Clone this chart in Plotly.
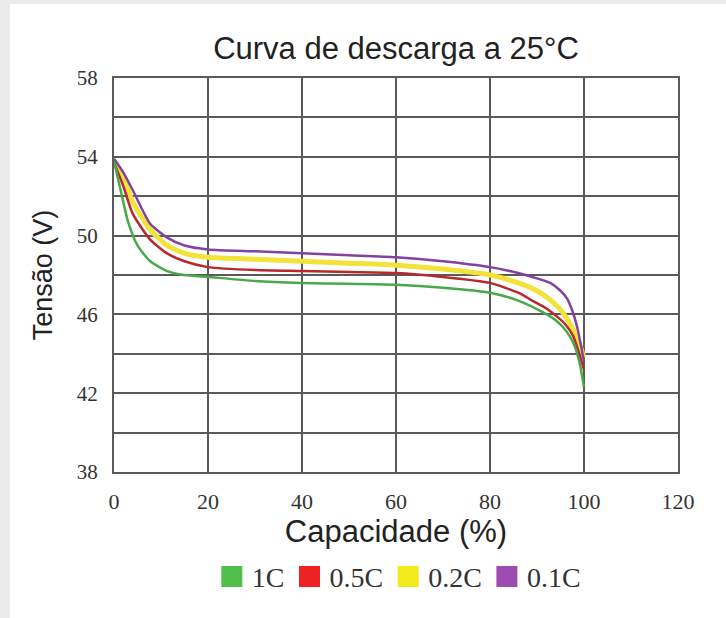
import plotly.graph_objects as go

# ---- data ----
series_names = ["1C", "0.5C", "0.2C", "0.1C"]

x_1c = [0, 1.5, 3, 5, 7.7, 11.3, 15, 20, 30, 40, 50, 60, 70, 80, 86, 91.3, 94, 96.4, 98, 99.1, 100]
v_1c = [53.8, 52.2, 50.7, 49.5, 48.7, 48.2, 48.0, 47.9, 47.7, 47.6, 47.55, 47.5, 47.35, 47.1, 46.7, 46.1, 45.7, 45.1, 44.4, 43.5, 42.3]

x_05c = [0, 2, 4, 7.7, 11.3, 15, 20, 30, 40, 50, 60, 70, 80, 86, 89, 92, 94.2, 96, 97.7, 99, 100]
v_05c = [53.7, 52.5, 51.1, 49.8, 49.1, 48.7, 48.4, 48.25, 48.2, 48.15, 48.1, 47.9, 47.6, 47.1, 46.7, 46.3, 45.9, 45.5, 44.9, 44.0, 43.2]

x_02c = [0, 2, 4, 7.7, 11.3, 15, 20, 30, 40, 50, 60, 70, 80, 86, 90, 93, 95.5, 97.5, 99, 100]
v_02c = [53.8, 53.0, 51.7, 50.3, 49.5, 49.1, 48.9, 48.8, 48.7, 48.6, 48.5, 48.3, 48.0, 47.6, 47.2, 46.7, 46.1, 45.3, 44.5, 43.8]

x_01c = [0, 2, 4, 7.7, 11.3, 15, 20, 30, 40, 50, 60, 70, 80, 86, 89, 92.8, 95, 96.4, 97.5, 98.5, 99.3, 100]
v_01c = [53.9, 53.2, 52.3, 50.6, 49.9, 49.5, 49.3, 49.2, 49.1, 49.0, 48.9, 48.7, 48.4, 48.1, 47.9, 47.6, 47.2, 46.8, 46.2, 45.4, 44.5, 43.6]

y_ticks = [38, 42, 46, 50, 54, 58]
x_ticks = [0, 20, 40, 60, 80, 100, 120]

line_colors = {"1C": "#4aa84a", "0.5C": "#b8282c", "0.2C": "#f2e23a", "0.1C": "#8442a0"}
legend_colors = {"1C": "#4fbf4a", "0.5C": "#ee2222", "0.2C": "#f3ea1c", "0.1C": "#9d4cb0"}
line_widths = {"1C": 2.5, "0.5C": 2.5, "0.2C": 5, "0.1C": 2.5}

data = {
    "1C": (x_1c, v_1c),
    "0.5C": (x_05c, v_05c),
    "0.2C": (x_02c, v_02c),
    "0.1C": (x_01c, v_01c),
}

fig = go.Figure()

# draw curves (yellow band first, then others)
for name in ["0.2C", "0.1C", "0.5C", "1C"]:
    xs, vs = data[name]
    fig.add_trace(go.Scatter(
        x=xs, y=vs, mode="lines", name=name, showlegend=False,
        line=dict(color=line_colors[name], width=line_widths[name], shape="spline", smoothing=0.6),
        hoverinfo="skip",
    ))

# legend entries (square swatches)
for name in series_names:
    fig.add_trace(go.Scatter(
        x=[None], y=[None], mode="markers", name=name,
        marker=dict(symbol="square", size=16, color=legend_colors[name],
                    line=dict(color=legend_colors[name], width=5)),
    ))

grid_col = "#5a5a5a"

fig.update_layout(
    width=726, height=618,
    paper_bgcolor="#ebebeb",
    plot_bgcolor="white",
    margin=dict(l=114, r=48, t=78, b=146),
    title=dict(text="Curva de descarga a 25°C", x=0.5, xanchor="center",
               y=1 - 48 / 618, yanchor="middle", xref="paper",
               font=dict(family="Liberation Sans", size=31, color="#222")),
    showlegend=True,
    legend=dict(orientation="h", x=0.505, xanchor="center", y=-0.266, yanchor="middle",
                font=dict(family="Liberation Serif", size=28, color="#333"),
                bgcolor="rgba(0,0,0,0)", itemwidth=30, tracegroupgap=0,
                itemclick=False),
    shapes=[dict(type="rect", xref="paper", yref="paper",
                 x0=(10 - 114) / 564, x1=1.2, y0=-0.5, y1=(472 - 4) / 394,
                 fillcolor="white", line=dict(width=0), layer="below")],
)

fig.update_xaxes(
    range=[0, 120], tickvals=x_ticks, ticktext=[str(t) for t in x_ticks],
    showgrid=True, gridcolor=grid_col, gridwidth=1.5,
    showline=True, linecolor=grid_col, linewidth=2, mirror=True,
    ticks="outside", ticklen=9, tickcolor="rgba(0,0,0,0)",
    tickfont=dict(family="Liberation Serif", size=22, color="#333"),
    title=dict(text="Capacidade (%)", standoff=2,
               font=dict(family="Liberation Sans", size=31, color="#222")),
    zeroline=False,
)
fig.update_yaxes(
    range=[38, 58], tickvals=y_ticks, ticktext=[str(t) for t in y_ticks],
    showgrid=True, gridcolor=grid_col, gridwidth=1.5,
    minor=dict(dtick=2, tick0=38, showgrid=True, gridcolor=grid_col, gridwidth=1.5),
    showline=True, linecolor=grid_col, linewidth=2, mirror=True,
    ticks="outside", ticklen=10, tickcolor="rgba(0,0,0,0)",
    tickfont=dict(family="Liberation Serif", size=21, color="#333"),
    title=dict(text="Tensão (V)", standoff=16,
               font=dict(family="Liberation Sans", size=27, color="#222")),
    zeroline=False,
)

fig.write_html("out.html", config={"displayModeBar": False})

# remove the default page margin so the figure sits at the window's top-left corner
with open("out.html", "r", encoding="utf-8") as f:
    html = f.read()
html = html.replace("<head>", "<head><style>html,body{margin:0;padding:0;}</style>", 1)
with open("out.html", "w", encoding="utf-8") as f:
    f.write(html)
